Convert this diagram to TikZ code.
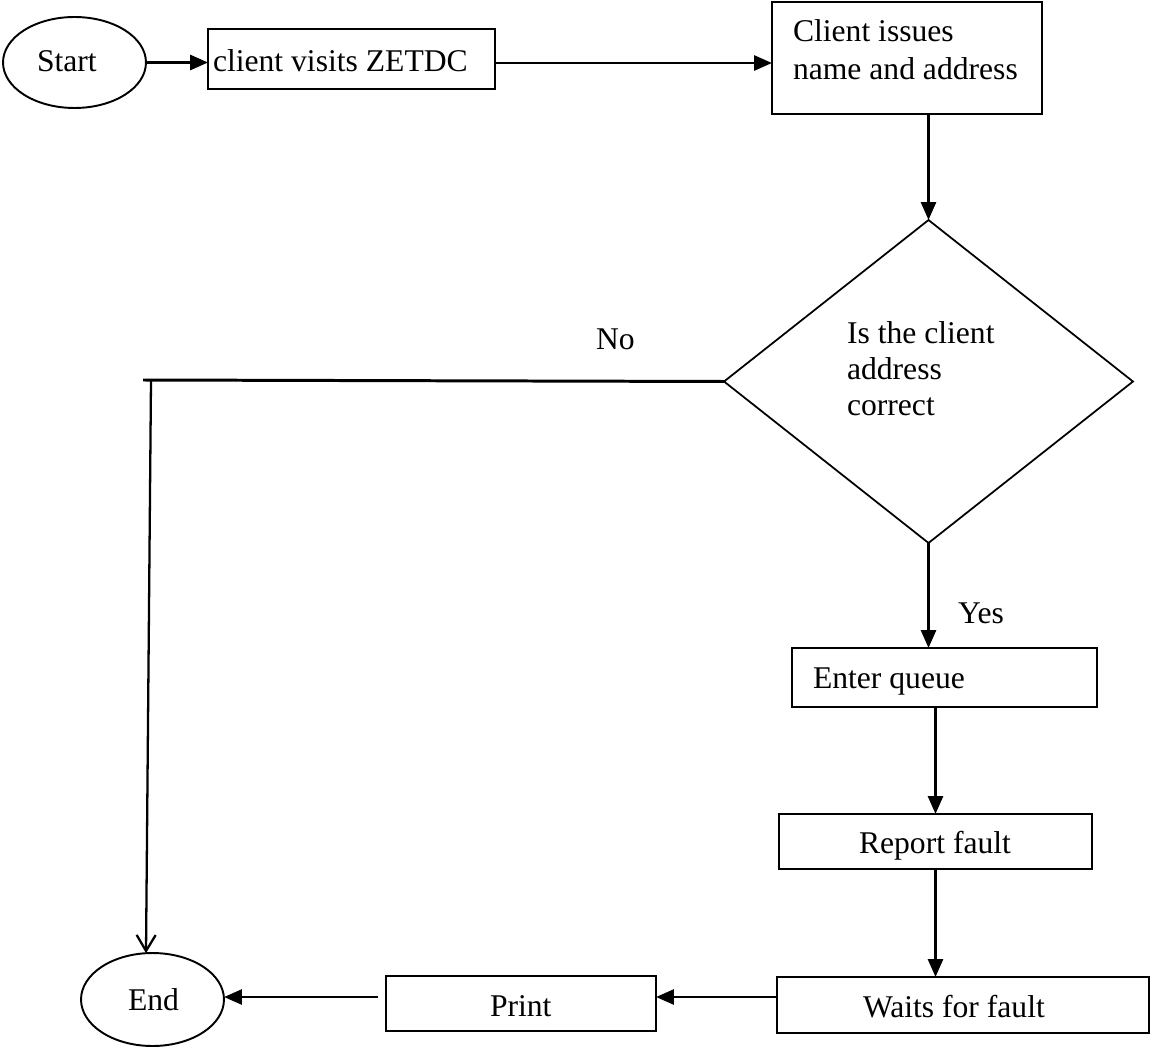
\documentclass[tikz,border=0pt]{standalone}
\usepackage{fontspec}
\setmainfont{Liberation Serif}
\usetikzlibrary{shapes.geometric,arrows.meta}
\begin{document}
\begin{tikzpicture}[x=0.02cm,y=-0.02cm,
  font=\fontsize{18}{21}\selectfont,
  shapebox/.style={draw,line width=1.2pt,rectangle,inner sep=0pt,outer sep=0pt},
  oval/.style={draw,line width=1.1pt,ellipse,inner sep=0pt,outer sep=0pt,minimum width=2.86cm},
  lbl/.style={anchor=base west,inner sep=0pt,outer sep=0pt},
  flow/.style={line width=1.6pt,-{Triangle[length=0.36cm,width=0.3cm]}},
  plain/.style={line width=1.7pt}
]
\useasboundingbox (0,0) rectangle (1152,1047);

% shapes
\node[oval,minimum height=1.82cm] (start) at (74.5,62.5) {};
\node[oval,minimum height=1.86cm] (end) at (152.5,999.5) {};
\node[shapebox,minimum width=5.74cm,minimum height=1.2cm] (visit) at (351.5,59) {};
\node[shapebox,minimum width=5.4cm,minimum height=2.24cm] (issues) at (907,58) {};
\node[draw,line width=1pt,diamond,inner sep=0pt,outer sep=0pt,aspect=1.266,
      minimum width=8.18cm,minimum height=6.46cm] (dia) at (928.5,381.5) {};
\node[shapebox,minimum width=6.1cm,minimum height=1.18cm] (queue) at (944.5,677.5) {};
\node[shapebox,minimum width=6.26cm,minimum height=1.1cm] (report) at (935.5,841.5) {};
\node[shapebox,minimum width=7.44cm,minimum height=1.12cm] (waits) at (963,1005) {};
\node[shapebox,minimum width=5.4cm,minimum height=1.1cm] (print) at (521,1003.5) {};

% texts
\node[lbl] (tstart) at (37,72) {Start};
\node[lbl] (tvisit) at (213,72) {client visits ZETDC};
\node[lbl] (tiss1) at (793,42) {Client issues};
\node[lbl] (tiss2) at (793,80) {name and address};
\node[lbl] (tdia1) at (847,343) {Is the client};
\node[lbl] (tdia2) at (847,379) {address};
\node[lbl] (tdia3) at (847,415) {correct};
\node[lbl] (tno) at (596,349) {No};
\node[lbl] (tyes) at (958,623) {Yes};
\node[lbl] (tqueue) at (813,688) {Enter queue};
\node[lbl] (treport) at (859,853) {Report fault};
\node[lbl] (twaits) at (863,1017) {Waits for fault};
\node[lbl] (tprint) at (490,1016) {Print};
\node[lbl] (tend) at (128,1010) {End};

% helper coordinates
\coordinate (row1) at (0,63);
\coordinate (row2) at (0,997);
\coordinate (nocorner) at (143,380);
\coordinate (nodown) at (151,380);

% connectors
\draw[flow] (start.east) -- (start.east -| visit.west);
\draw[flow] (visit.east |- row1) -- (issues.west |- row1);
\draw[flow] (dia.north |- issues.south) -- (dia.north);
\draw[flow] (dia.south) -- (dia.south |- queue.north);
\draw[flow] (report.north |- queue.south) -- (report.north);
\draw[flow] (report.south) -- (report.south |- waits.north);
\draw[flow] (waits.west |- row2) -- (print.east |- row2);
\draw[flow,shorten <=0.16cm] (print.west |- row2) -- (end.east |- row2);
\draw[plain] (dia.west) -- (nocorner);
\draw[line width=1.3pt,-{Straight Barb[length=0.32cm,width=0.38cm]}] (nodown) -- (end.98);
\end{tikzpicture}
\end{document}
